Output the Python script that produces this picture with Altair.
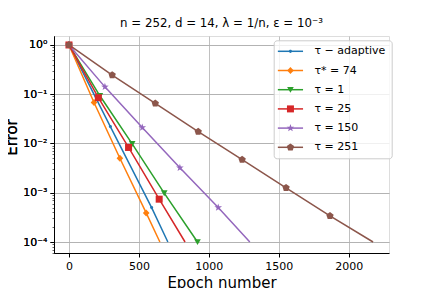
import altair as alt
import pandas as pd
import numpy as np

# ---------------- data ----------------
series = ["τ − adaptive", "τ* = 74", "τ = 1", "τ = 25", "τ = 150", "τ = 251"]
colors = ["#1f77b4", "#ff7f0e", "#2ca02c", "#d62728", "#9467bd", "#8c564b"]

adaptive_epoch = [0, 296, 591, 707]
adaptive_error = [1.0, 0.022, 5.0e-4, 1.0e-4]
adaptive_mark = [1, 1, 1, 0]

opt_epoch = [0, 179, 364, 552, 650]
opt_error = [1.0, 0.068, 5.0e-3, 3.9e-4, 1.0e-4]
opt_mark = [1, 1, 1, 1, 0]

t1_epoch = [0, 221, 452, 681, 919]
t1_error = [1.0, 0.093, 9.8e-3, 9.8e-4, 1.0e-4]
t1_mark = [1, 1, 1, 1, 1]

t25_epoch = [0, 210, 426, 645, 830]
t25_error = [1.0, 0.085, 8.3e-3, 7.4e-4, 1.0e-4]
t25_mark = [1, 1, 1, 1, 0]

t150_epoch = [0, 257, 524, 793, 1067, 1293]
t150_error = [1.0, 0.141, 0.021, 3.2e-3, 5.0e-4, 1.0e-4]
t150_mark = [1, 1, 1, 1, 1, 0]

t251_epoch = [0, 309, 617, 924, 1238, 1552, 1866, 2174]
t251_error = [1.0, 0.245, 0.065, 0.0174, 4.7e-3, 1.26e-3, 3.4e-4, 1.0e-4]
t251_mark = [1, 1, 1, 1, 1, 1, 1, 0]

x_ticks = [0, 500, 1000, 1500, 2000]
y_ticks = [1e-4, 1e-3, 1e-2, 1e-1, 1.0]

# ---------------- table ----------------
all_series = [
    (adaptive_epoch, adaptive_error, adaptive_mark),
    (opt_epoch, opt_error, opt_mark),
    (t1_epoch, t1_error, t1_mark),
    (t25_epoch, t25_error, t25_mark),
    (t150_epoch, t150_error, t150_mark),
    (t251_epoch, t251_error, t251_mark),
]
rows = []
for name, (ep, er, mk) in zip(series, all_series):
    for e, v, m in zip(ep, er, mk):
        rows.append({"series": name, "epoch": e, "error": v, "mark": m})
df = pd.DataFrame(rows)

minor = [m * 10.0 ** k for k in range(-5, 0) for m in range(2, 10)]
minor = [v for v in minor if 5.98e-5 <= v <= 1.52]
minor_df = pd.DataFrame({"error": minor})

# ---------------- marker paths ----------------
def poly(radii, start=-90):
    n = len(radii)
    ang = np.deg2rad(start + 360.0 / n * np.arange(n))
    pts = [f"{r*np.cos(a):.3f},{r*np.sin(a):.3f}" for r, a in zip(radii, ang)]
    return "M" + "L".join(pts) + "Z"

dot = "M0.45,0A0.45,0.45 0 1,1 -0.45,0A0.45,0.45 0 1,1 0.45,0Z"
diamond = "M0,-1L0.95,0L0,1L-0.95,0Z"
tri_down = "M-0.95,-0.8L0.95,-0.8L0,0.85Z"
square = "M-1,-1L1,-1L1,1L-1,1Z"
star = poly([1.15, 0.45] * 5)
pentagon = poly([1.1] * 5)
shapes = [dot, diamond, tri_down, square, star, pentagon]
line_sym = "M-3.6,0L3.6,0"

FONT = "DejaVu Sans"
xdom = [-107, 2288]
ydom = [5.98e-5, 1.52]

xenc = alt.X("epoch:Q", scale=alt.Scale(domain=xdom, nice=False, zero=False),
             axis=alt.Axis(values=x_ticks, format="d", title="Epoch number", titleFontSize=15,
                           titleFontWeight="normal", titleFont=FONT, titleY=22,
                           titleBaseline="top",
                           labelFontSize=11, labelFont=FONT, labelColor="black",
                           tickSize=4, labelPadding=3, tickColor="black",
                           domainColor="black", grid=True, gridColor="#b0b0b0",
                           gridWidth=0.8, titleColor="black"))

y_label = ("datum.value > 0.5 ? '10⁰' : datum.value > 0.05 ? '10⁻¹' : "
           "datum.value > 0.005 ? '10⁻²' : datum.value > 0.0005 ? '10⁻³' : '10⁻⁴'")
yenc = alt.Y("error:Q", scale=alt.Scale(type="log", domain=ydom, nice=False),
             axis=alt.Axis(values=y_ticks, labelExpr=y_label, title="Error",
                           titleFontSize=15, titleFontWeight="normal", titleFont=FONT,
                           titleAngle=270, titleX=-38, titleY=101,
                           titleBaseline="alphabetic", titleAlign="center",
                           titleColor="black",
                           labelFontSize=11, labelFont=FONT, labelColor="black",
                           tickSize=4, labelPadding=3, tickColor="black",
                           domainColor="black", grid=True, gridColor="#b0b0b0",
                           gridWidth=0.8, orient="left"))

LEG_X = 219.7
LEG_Y = 4.3
common_leg = dict(orient="none", legendX=LEG_X, legendY=LEG_Y, title=None,
                  padding=5.5, symbolOffset=5.75, labelOffset=18.5,
                  rowPadding=7.2, labelFontSize=11, labelFont=FONT,
                  symbolSize=49, symbolStrokeWidth=1.5, labelLimit=200)

lines = alt.Chart(df).mark_line(strokeWidth=1.5).encode(
    x=xenc, y=yenc,
    color=alt.Color("series:N", sort=series,
                    scale=alt.Scale(domain=series, range=colors),
                    legend=alt.Legend(symbolType=line_sym, fillColor="rgba(255,255,255,0.8)",
                                      strokeColor="#cccccc", cornerRadius=3,
                                      labelColor="black", **common_leg)),
    order="epoch:Q",
)

points = alt.Chart(df).transform_filter("datum.mark == 1").mark_point(
    filled=True, size=49, strokeWidth=1, opacity=1
).encode(
    x=xenc, y=yenc,
    color=alt.Color("series:N", sort=series,
                    scale=alt.Scale(domain=series, range=colors),
                    legend=alt.Legend(labelOpacity=0, **common_leg)),
    shape=alt.Shape("series:N", sort=series,
                    scale=alt.Scale(domain=series, range=shapes),
                    legend=alt.Legend(labelOpacity=0, **common_leg)),
)

minor_axis = alt.Chart(minor_df).mark_point(opacity=0).encode(
    y=alt.Y("error:Q", scale=alt.Scale(type="log", domain=ydom, nice=False),
            axis=alt.Axis(values=minor, labels=False, title=None, tickSize=2,
                          tickColor="black", grid=False, domain=False,
                          orient="left", tickWidth=0.6)),
)

chart = alt.layer(lines, points, minor_axis).resolve_scale(
    color="independent", shape="independent"
).resolve_axis(y="independent").properties(
    width=335, height=217,
    title=alt.TitleParams("n = 252, d = 14, λ = 1/n,  ε = 10⁻³", fontSize=11.8,
                          font=FONT, fontWeight="normal", anchor="middle",
                          offset=6, color="black"),
    autosize=alt.AutoSizeParams(type="none"),
    padding={"left": 46, "top": 28, "right": 30, "bottom": 37},
).configure_view(stroke="black", strokeWidth=1).configure(background="white")

chart.save("out.html", embed_options={"renderer": "svg", "actions": False})
